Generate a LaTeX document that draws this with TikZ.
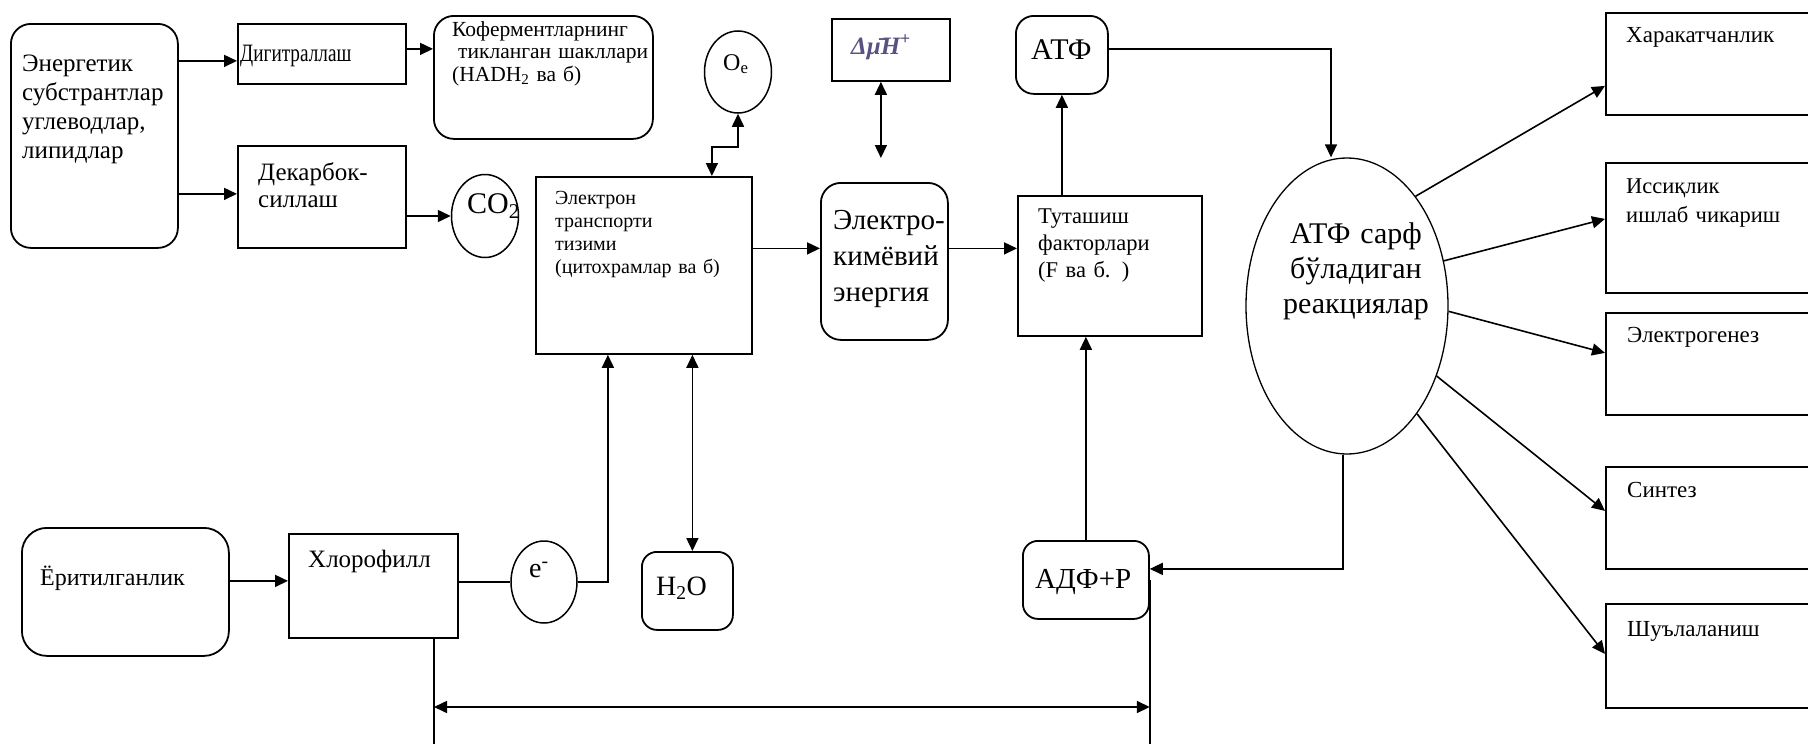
\documentclass[tikz,border=0pt]{standalone}
\usepackage{fontspec}
\setmainfont{Liberation Serif}
\newfontfamily\condfont[FakeStretch=0.77]{Liberation Serif}
\usetikzlibrary{arrows.meta,positioning,calc,shapes.geometric}
\definecolor{dmhcol}{RGB}{90,80,130}
\newcommand{\fsz}[2]{\fontsize{#1}{#2}\selectfont}
\tikzset{
  box/.style={
    draw,
    line width=1.8pt,
    inner sep=0pt,
    anchor=north west
  },
  rbox/.style={
    box,
    rounded corners=20pt
  },
  oval/.style={
    ellipse,
    draw,
    line width=1.5pt,
    inner sep=0pt
  },
  lbl/.style={
    inner sep=0pt,
    anchor=base west
  },
  mlbl/.style={
    lbl,
    align=left
  },
  arr/.style={-{Triangle[length=13pt,width=12pt]},line width=1.6pt},
  darr/.style={{Triangle[length=13pt,width=12pt]}-{Triangle[length=13pt,width=12pt]},line width=1.6pt},
  ln/.style={line width=1.6pt}
}

\begin{document}
\begin{tikzpicture}[x=1pt,y=-1pt]
  \fill[white] (0,0) rectangle (1808,744);
  \useasboundingbox (0,0) rectangle (1808,744);

  % top rows
  \node[rbox,minimum width=167pt,minimum height=224pt] (ener) at (10,23) {};
  \node[box,minimum width=168pt,minimum height=60pt] (dig) at (237,23) {};
  \node[box,minimum width=168pt,minimum height=102pt] (dek) at (237,145) {};
  \node[rbox,minimum width=219pt,minimum height=123pt] (kof) at (433,15) {};
  \node[oval,minimum width=67pt,minimum height=83pt] (co2) at (485,216) {};
  \node[oval,minimum width=67pt,minimum height=82pt] (oe) at (738,72) {};
  \node[box,minimum width=216pt,minimum height=177pt] (elt) at (535,176) {};
  \node[box,minimum width=118pt,minimum height=62pt] (dmh) at (831,18) {};
  \node[rbox,minimum width=127pt,minimum height=157pt] (ekim) at (820,182) {};
  \node[rbox,rounded corners=18pt,minimum width=92pt,minimum height=78pt] (atf) at (1015,15) {};
  \node[box,minimum width=184pt,minimum height=140pt] (tut) at (1017,195) {};
  \node[oval,line width=1.3pt,minimum width=202pt,minimum height=296pt] (ell) at (1347,306) {};

  % right column
  \node[box,minimum width=215pt,minimum height=102pt] (har) at (1605,12) {};
  \node[box,minimum width=215pt,minimum height=130pt] (iss) at (1605,162) {};
  \node[box,minimum width=215pt,minimum height=102pt] (elg) at (1605,312) {};
  \node[box,minimum width=215pt,minimum height=102pt] (sin) at (1605,466) {};
  \node[box,minimum width=215pt,minimum height=104pt] (shu) at (1605,603) {};

  % bottom row
  \node[rbox,rounded corners=25pt,minimum width=207pt,minimum height=128pt] (yor) at (21,527) {};
  \node[box,minimum width=169pt,minimum height=104pt] (hlor) at (288,533) {};
  \node[oval,minimum width=66pt,minimum height=82pt] (em) at (544,582) {};
  \node[rbox,rounded corners=15pt,minimum width=91pt,minimum height=78pt] (h2o) at (641,551) {};
  \node[rbox,rounded corners=15pt,minimum width=126pt,minimum height=78pt] (adf) at (1022,540) {};

  % texts
  \node[mlbl,text width=160pt,font=\fsz{25}{29}] (enert) at (22,71) {Энергетик\\субстрантлар\\углеводлар,\\липидлар};
  \node[lbl,font=\condfont\fsz{25}{29}] (digt) at (240,61) {Дигитраллаш};
  \node[mlbl,text width=150pt,font=\fsz{25}{27}] (dekt) at (258,180) {Декарбок-\\силлаш};
  \node[mlbl,text width=210pt,font=\fsz{21.5}{22.5}] (koft) at (452,36) {Коферментларнинг\\\hspace*{6pt}тикланган шакллари\\(HADH\textsubscript{2} ва б)};
  \node[lbl,font=\fsz{30}{34}] (co2t) at (467,213) {CO\textsubscript{2}};
  \node[lbl,font=\fsz{24}{28}] (oet) at (723,70) {O\textsubscript{e}};
  \node[mlbl,text width=190pt,font=\fsz{20}{23}] (eltt) at (555,204) {Электрон\\транспорти\\тизими\\(цитохрамлар ва б)};
  \node[lbl,text=dmhcol,font=\fsz{25}{28}\bfseries\itshape] (dmht) at (851,54) {Δμ̄H\textsuperscript{+}};
  \node[mlbl,text width=125pt,font=\fsz{29}{36}] (ekimt) at (833,229) {Электро-\\кимёвий\\энергия};
  \node[lbl,font=\fsz{30}{34}] (atft) at (1031,59) {АТФ};
  \node[mlbl,text width=160pt,font=\fsz{22.5}{27}] (tutt) at (1038,223) {Туташиш\\факторлари\\(F ва б. )};
  \node[inner sep=0pt,anchor=base,align=center,text width=190pt,font=\fsz{30}{35}] (ellt) at (1356,243) {АТФ сарф\\бўладиган\\реакциялар};
  \node[lbl,font=\fsz{23}{29}] (hart) at (1626,42) {Харакатчанлик};
  \node[mlbl,text width=175pt,font=\fsz{22.5}{29}] (isst) at (1626,193) {Иссиқлик\\ишлаб чикариш};
  \node[lbl,font=\fsz{23}{29}] (elgt) at (1627,342) {Электрогенез};
  \node[lbl,font=\fsz{23}{29}] (sint) at (1627,497) {Синтез};
  \node[lbl,font=\fsz{23}{29}] (shut) at (1627,636) {Шуълаланиш};
  \node[lbl,font=\fsz{24}{28}] (yort) at (40,585) {Ёритилганлик};
  \node[lbl,font=\fsz{25}{29}] (hlort) at (308,567) {Хлорофилл};
  \node[lbl,font=\fsz{28}{32}] (emt) at (529,577) {e\textsuperscript{-}};
  \node[lbl,font=\fsz{28}{32}] (h2ot) at (656,595) {H\textsubscript{2}O};
  \node[lbl,font=\fsz{29}{34}] (adft) at (1035,588) {АДФ+Р};

  % connectors, top
  \draw[arr] ([yshift=-7pt]dig.west -| ener.east) -- ([yshift=-7pt]dig.west);
  \draw[arr] ([yshift=3pt]dek.west -| ener.east) -- ([yshift=3pt]dek.west);
  \draw[arr] ([yshift=5pt]dig.east) -- ([yshift=5pt]dig.east -| kof.west);
  \draw[arr] (co2.west -| dek.east) -- (co2.west);
  \draw[darr] ([xshift=68pt]elt.north) -- ++(0,-29) -| (oe.south);
  \draw[darr,shorten >=24pt] ([xshift=-10pt]dmh.south) -- ([xshift=-10pt]dmh.south |- ekim.north);
  \draw[arr] ([yshift=13pt]ekim.west -| elt.east) -- ([yshift=13pt]ekim.west);
  \draw[arr] ([yshift=13pt]ekim.east) -- ([yshift=13pt]ekim.east -| tut.west);
  \draw[arr] (atf.south |- tut.north) -- (atf.south);
  \draw[arr] ([yshift=6pt]atf.east) -| ([xshift=-16pt]ell.north);
  \draw[arr] ([xshift=-4pt]ell.south) |- ([yshift=11pt]adf.east);
  \draw[arr] (adf.north) -- (adf.north |- tut.south);

  % connectors, right
  \draw[arr] (ell.58) -- ([yshift=-22pt]har.west);
  \draw[arr] (ell.25) -- ([yshift=9pt]iss.west);
  \draw[arr] (ell.-3) -- ([yshift=11pt]elg.west);
  \draw[arr] (ell.-38) -- ([yshift=7pt]sin.west);
  \draw[arr] (ell.-57) -- ([yshift=2pt]shu.west);

  % connectors, bottom
  \draw[arr] ([yshift=5pt]hlor.west -| yor.east) -- ([yshift=5pt]hlor.west);
  \draw[ln] (em.west -| hlor.east) -- (em.west);
  \draw[arr] (em.east) -| ([xshift=-36pt]elt.south);
  \draw[darr] ([xshift=5pt]h2o.north) -- ([xshift=5pt]h2o.north |- elt.south);

  \coordinate (lend) at (434,744);
  \coordinate (rend) at (adf.east |- lend);
  \draw[ln] (hlor.south -| lend) -- (lend);
  \draw[ln] (adf.east) -- (rend);
  \draw[darr] ([yshift=37pt]lend) -- ([yshift=37pt]rend);
\end{tikzpicture}
\end{document}
